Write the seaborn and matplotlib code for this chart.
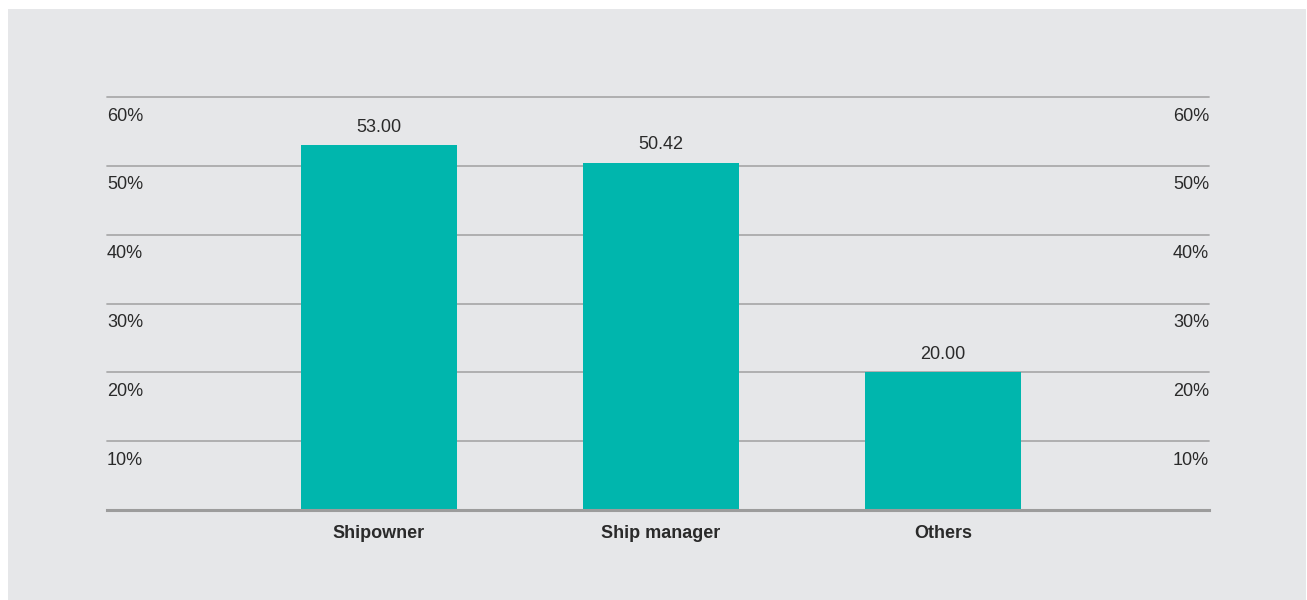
import matplotlib
matplotlib.use("Agg")
import matplotlib.pyplot as plt
from matplotlib.patches import Rectangle
import seaborn as sns

# data
categories = ["Shipowner", "Ship manager", "Others"]
values = [53.00, 50.42, 20.00]
grid_values = [10, 20, 30, 40, 50, 60]
grid_labels = ["10%", "20%", "30%", "40%", "50%", "60%"]

bar_color = "#00b6ad"
panel_color = "#e6e7e9"
text_color = "#2a2a2a"
grid_color = "#ababab"

sns.set_theme(style="white")
plt.rcParams["font.family"] = ["Liberation Sans", "DejaVu Sans"]

fig = plt.figure(figsize=(13.07, 6.0), dpi=100, facecolor="white")
# grey panel behind the chart
fig.patches.append(Rectangle((8 / 1307, 0), 1298 / 1307, 591 / 600,
                             transform=fig.transFigure, facecolor=panel_color,
                             edgecolor="none", zorder=-10))

ax = fig.add_axes([107 / 1307, 90 / 600, 1102 / 1307, 412.8 / 600])
ax.set_facecolor("none")

sns.barplot(x=categories, y=values, color=bar_color, saturation=1,
            width=0.553, edgecolor="none", linewidth=0, ax=ax, zorder=3)

ax.set_xlim(-0.9645, 2.943)
ax.set_ylim(0, 60)

# gridlines
ax.set_yticks(grid_values)
ax.set_yticklabels([])
ax.tick_params(axis="y", length=0)
ax.yaxis.grid(True, color=grid_color, linewidth=1.3)
for gl in ax.get_ygridlines():
    gl.set_clip_on(False)
ax.set_axisbelow(True)

for side in ["top", "left", "right"]:
    ax.spines[side].set_visible(False)
ax.spines["bottom"].set_color("#9c9c9c")
ax.spines["bottom"].set_linewidth(2.2)
ax.spines["bottom"].set_zorder(4)

# percent labels sit just below each gridline on both sides
for v, lab in zip(grid_values, grid_labels):
    ax.text(0, v - 2.75, lab, transform=ax.get_yaxis_transform(),
            ha="left", va="center", fontsize=13, color=text_color)
    ax.text(1, v - 2.75, lab, transform=ax.get_yaxis_transform(),
            ha="right", va="center", fontsize=13, color=text_color)

# value labels on top of bars
ax.bar_label(ax.containers[0], labels=[f"{v:.2f}" for v in values],
             padding=7, fontsize=13, color=text_color)

ax.tick_params(axis="x", length=0, pad=11)
for t in ax.get_xticklabels():
    t.set_fontweight("bold")
    t.set_fontsize(13)
    t.set_color(text_color)

ax.set_xlabel("")
ax.set_ylabel("")

fig.savefig("out.png", dpi=100, facecolor="white")
